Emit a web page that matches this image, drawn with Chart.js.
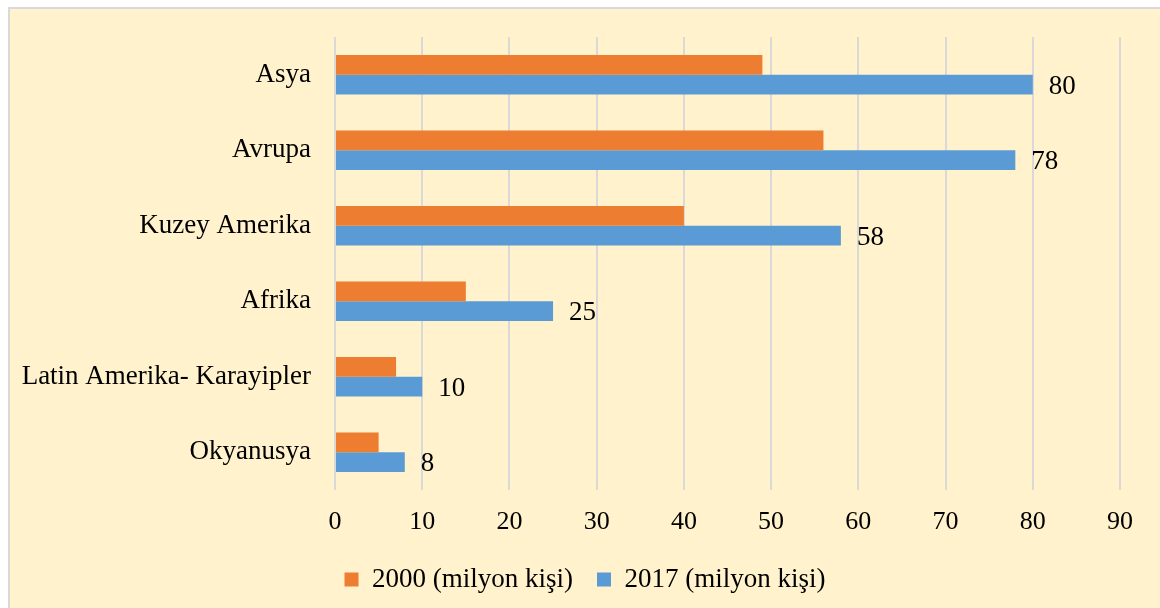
<!DOCTYPE html>
<html>
<head>
<meta charset="utf-8">
<script src="https://cdn.jsdelivr.net/npm/chart.js@4"></script>
<style>
  body { margin: 0; background: #fff; }
  #box {
    position: absolute; left: 8px; top: 7px; width: 1160px; height: 610px;
    background: #FFF2CC; border-left: 2px solid #d9d9d9; border-top: 2px solid #d9d9d9;
  }
  canvas { position: absolute; left: 0; top: 0; }
</style>
</head>
<body>
<div id="box"><canvas id="chart" width="1150" height="599"></canvas></div>
<script>
const categories = ["Asya", "Avrupa", "Kuzey Amerika", "Afrika", "Latin Amerika- Karayipler", "Okyanusya"];
const values2000 = [49, 56, 40, 15, 7, 5];
const values2017 = [80, 78, 58, 25, 10, 8];
const seriesNames = ["2000 (milyon kişi)", "2017 (milyon kişi)"];

const FONT = "'Liberation Serif', 'Times New Roman', serif";

// value labels only for the 2017 series
const endLabels = {
  id: "endLabels",
  afterDatasetsDraw(chart) {
    const ctx = chart.ctx;
    const meta = chart.getDatasetMeta(1);
    ctx.save();
    ctx.font = "27px " + FONT;
    ctx.fillStyle = "#000";
    ctx.textAlign = "left";
    ctx.textBaseline = "middle";
    meta.data.forEach((bar, i) => {
      ctx.fillText(values2017[i], bar.x + 16, bar.y + 2);
    });
    ctx.restore();
  }
};

new Chart(document.getElementById("chart"), {
  type: "bar",
  data: {
    labels: categories,
    datasets: [
      { label: seriesNames[0], data: values2000, backgroundColor: "#ED7D31" },
      { label: seriesNames[1], data: values2017, backgroundColor: "#5B9BD5" }
    ]
  },
  options: {
    indexAxis: "y",
    responsive: false,
    animation: false,
    categoryPercentage: 0.52,
    barPercentage: 1,
    layout: { padding: { top: 28, right: 0, bottom: 5, left: 0 } },
    scales: {
      x: {
        min: 0, max: 90,
        ticks: { stepSize: 10, color: "#000", font: { family: FONT, size: 26 }, padding: 17 },
        grid: { color: "#d9d9d9", lineWidth: 2, drawTicks: false },
        border: { display: false },
        afterFit(scale) { scale.height = 52; scale.paddingRight = 40; scale.paddingLeft = 0; }
      },
      y: {
        ticks: { color: "#000", font: { family: FONT, size: 27 }, padding: 24 },
        grid: { display: false, drawTicks: false },
        border: { display: false },
        afterFit(scale) { scale.width = 325; scale.paddingTop = 0; scale.paddingBottom = 0; }
      }
    },
    plugins: {
      legend: {
        position: "bottom",
        labels: {
          color: "#000", font: { family: FONT, size: 27 },
          boxWidth: 14, boxHeight: 14, padding: 24
        }
      },
      tooltip: { enabled: false }
    }
  },
  plugins: [endLabels]
});
</script>
</body>
</html>
